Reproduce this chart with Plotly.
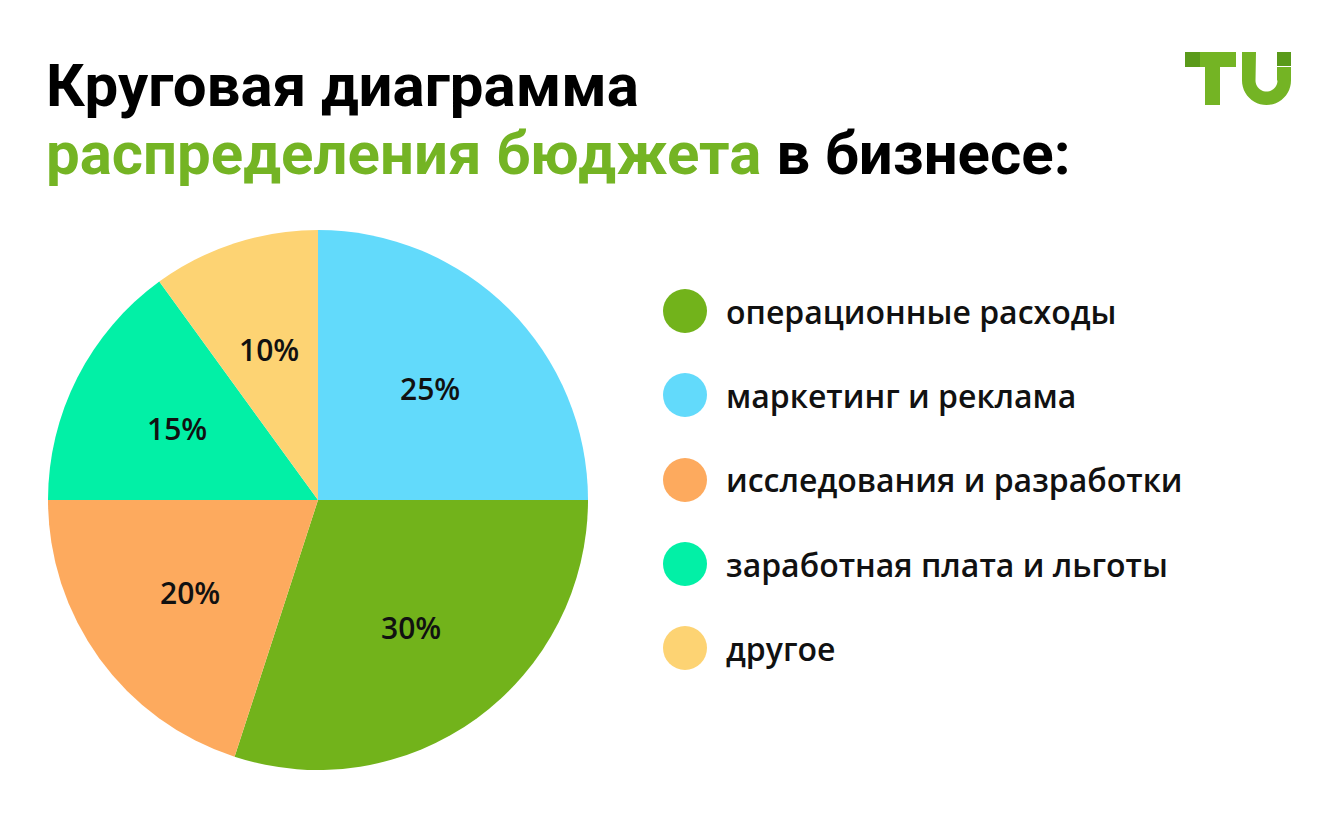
import plotly.graph_objects as go
import math

W, H = 1340, 820

categories = ["операционные расходы", "маркетинг и реклама", "исследования и разработки",
              "заработная плата и льготы", "другое"]
values = [30, 25, 20, 15, 10]
colors = ["#72B31B", "#62DAFB", "#FDAA5E", "#02F0A6", "#FDD373"]

# pie drawing order (clockwise from 3 o'clock): operational, R&D, salary, other, marketing
pie_order = [0, 2, 3, 4, 1]

def px(x):
    return x / W

def py(y):
    return 1 - y / H

PIE_X0, PIE_X1, PIE_Y0, PIE_Y1 = 48, 588, 230, 770
ROT = 90

fig = go.Figure()
fig.add_trace(go.Pie(
    labels=[categories[i] for i in pie_order],
    values=[values[i] for i in pie_order],
    marker=dict(colors=[colors[i] for i in pie_order], line=dict(width=0)),
    sort=False,
    direction="clockwise",
    rotation=ROT,
    textinfo="none",
    domain=dict(x=[px(PIE_X0), px(PIE_X1)], y=[py(PIE_Y1), py(PIE_Y0)]),
    showlegend=False,
    hoverinfo="label+percent",
))

shapes = []
annotations = []

# slice labels placed along each slice's mid-angle
cx = (PIE_X0 + PIE_X1) / 2
cy = (PIE_Y0 + PIE_Y1) / 2
R = (PIE_X1 - PIE_X0) / 2
rho = 0.585 * R
total = sum(values)
cum = 0
for i in pie_order:
    v = values[i]
    theta = math.radians(ROT + 360 * (cum + v / 2) / total)
    cum += v
    lx = cx + rho * math.sin(theta)
    ly = cy - rho * math.cos(theta)
    annotations.append(dict(text=f"{v}%", xref="paper", yref="paper", x=px(lx), y=py(ly),
                            xanchor="center", yanchor="middle", showarrow=False,
                            font=dict(family="Open Sans", size=30, color="#111111", weight=600)))

# custom legend
leg_y = [311, 395, 480, 564, 648]
for i, (cat, col) in enumerate(zip(categories, colors)):
    ly = leg_y[i]
    r = 22
    shapes.append(dict(type="circle", xref="paper", yref="paper",
                       x0=px(685 - r), x1=px(685 + r), y0=py(ly + r), y1=py(ly - r),
                       fillcolor=col, line=dict(width=0)))
    annotations.append(dict(text=cat, xref="paper", yref="paper", x=px(724), y=py(ly),
                            xanchor="left", yanchor="middle", showarrow=False,
                            font=dict(family="Open Sans", size=32, color="#111111", weight=600)))

# title
annotations.append(dict(text="<b>Круговая диаграмма</b>", xref="paper", yref="paper",
                        x=px(44), y=py(86), xanchor="left", yanchor="middle", showarrow=False,
                        font=dict(family="Roboto", size=60, color="#000000")))
annotations.append(dict(text="<b><span style='color:#74B424'>распределения бюджета</span> в бизнесе:</b>",
                        xref="paper", yref="paper",
                        x=px(44), y=py(154), xanchor="left", yanchor="middle", showarrow=False,
                        font=dict(family="Roboto", size=60, color="#000000")))

# logo
light = "#74B424"
dark = "#5A9A1A"
def rect(x0, y0, x1, y1, c):
    return dict(type="rect", xref="paper", yref="paper", x0=px(x0), x1=px(x1),
                y0=py(y1), y1=py(y0), fillcolor=c, line=dict(width=0), layer="above")
shapes.append(rect(1185, 52, 1200, 67, dark))
shapes.append(rect(1200, 52, 1236, 67, light))
shapes.append(rect(1205, 52, 1220, 105, light))
shapes.append(rect(1277, 52, 1291, 66, dark))
outer_r = (1291 - 1242) / 2
inner_r = outer_r - 13.5
cxu = (1242 + 1291) / 2
cyu = 105 - outer_r
path = f"M {px(1242)},{py(67)} L {px(1242)},{py(cyu)} "
n = 24
for k in range(n + 1):
    a = math.pi - math.pi * k / n
    x = cxu + outer_r * math.cos(a)
    y = cyu + outer_r * math.sin(a)
    path += f"L {px(x)},{py(y)} "
path += f"L {px(1291)},{py(67)} L {px(1277)},{py(67)} L {px(1277)},{py(cyu)} "
for k in range(n + 1):
    a = math.pi * k / n
    x = cxu + inner_r * math.cos(a)
    y = cyu + inner_r * math.sin(a)
    path += f"L {px(x)},{py(y)} "
path += f"L {px(1256)},{py(52)} L {px(1242)},{py(52)} Z"
shapes.append(dict(type="path", xref="paper", yref="paper", path=path,
                   fillcolor=light, line=dict(width=0), layer="above"))

fig.update_layout(
    width=W, height=H,
    margin=dict(l=0, r=0, t=0, b=0),
    paper_bgcolor="#FFFFFF",
    plot_bgcolor="#FFFFFF",
    shapes=shapes,
    annotations=annotations,
)

fig.write_html("out.html")
